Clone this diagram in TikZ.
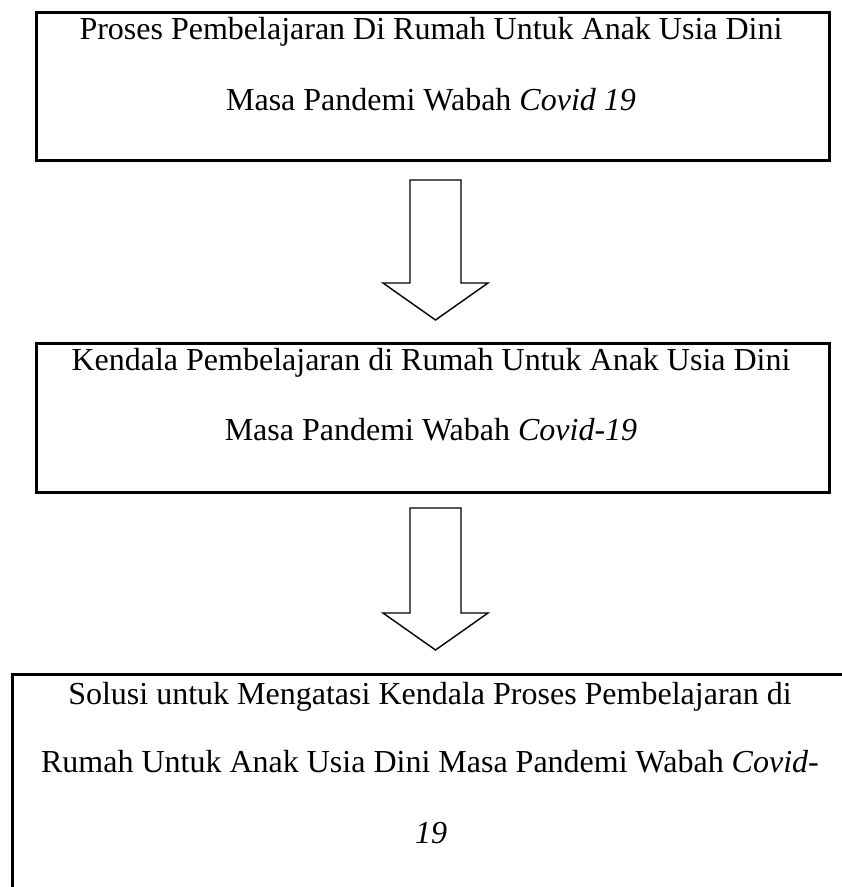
\documentclass[tikz,border=0pt]{standalone}
\usepackage{fontspec}
\setmainfont{Liberation Serif}
\usetikzlibrary{positioning}
\tikzset{box/.style={draw, line width=2.5pt, anchor=north west, inner sep=0pt},
         txt/.style={anchor=base, inner sep=0pt, font=\fontsize{32}{38}\selectfont},
         arrowline/.style={draw, line width=1.4pt, line join=miter, fill=white}}
\newcommand{\bigdownarrow}[2]{% top of shaft, shaft length
  \draw[arrowline] (#1) ++(-25.5,0) -- ++(51,0) -- ++(0,#2) -- ++(27,0)
     -- ++(-52.5,37) -- ++(-52.5,-37) -- ++(27,0) -- cycle;}

\begin{document}
\begin{tikzpicture}[x=1pt,y=-1pt]
  \useasboundingbox (0,0) rectangle (842,887);
  % boxes
  \node[box, minimum width=793pt, minimum height=148pt] (proses) at (35,11) {};
  \node[box, minimum width=793pt, minimum height=149pt] (kendala) at (35,342) {};
  \node[box, minimum width=840pt, minimum height=230pt] (solusi) at (11,673) {};
  % texts
  \node[txt] (proses1) at (431,39) {Proses Pembelajaran Di Rumah Untuk Anak Usia Dini};
  \node[txt] (proses2) at (431,110) {Masa Pandemi Wabah \textit{Covid 19}};
  \node[txt] (kendala1) at (431,370) {Kendala Pembelajaran di Rumah Untuk Anak Usia Dini};
  \node[txt] (kendala2) at (431,440) {Masa Pandemi Wabah \textit{Covid-19}};
  \node[txt] (solusi1) at (430,704) {Solusi untuk Mengatasi Kendala Proses Pembelajaran di};
  \node[txt] (solusi2) at (430,772) {Rumah Untuk Anak Usia Dini Masa Pandemi Wabah \textit{Covid}-};
  \node[txt] (solusi3) at (431,843) {\textit{19}};
  % arrows
  \coordinate (a1) at (435.5,180);
  \coordinate (a2) at (435.5,508);
  \bigdownarrow{a1}{103}
  \bigdownarrow{a2}{105}
\end{tikzpicture}
\end{document}
